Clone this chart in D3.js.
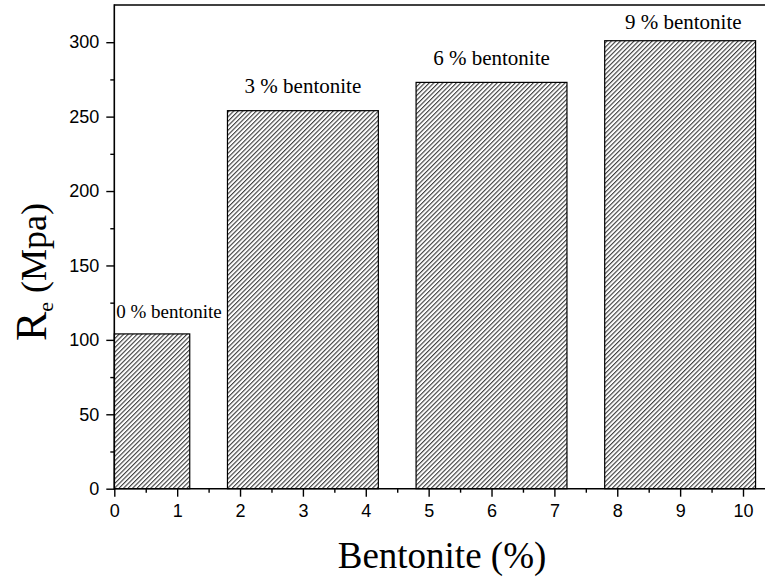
<!DOCTYPE html>
<html><head><meta charset="utf-8">
<script src="https://cdn.jsdelivr.net/npm/d3@7"></script>
<style>
html,body{margin:0;padding:0;background:#fff;}
svg{display:block;}
</style></head>
<body>
<svg id="chart" width="765" height="578"></svg>
<script>
// ---- data ----
const categories = ["0 % bentonite", "3 % bentonite", "6 % bentonite", "9 % bentonite"];
const barStart = [0, 1.8, 4.8, 7.8];
const barEnd = [1.2, 4.2, 7.2, 10.2];
const values = [104, 254, 273, 301];
const labelX = [0.87, 3.0, 6.0, 9.05];
const labelY = [114.5, 266, 285, 309];
const xTicks = [0, 1, 2, 3, 4, 5, 6, 7, 8, 9, 10];
const xMinorTicks = [0.5, 1.5, 2.5, 3.5, 4.5, 5.5, 6.5, 7.5, 8.5, 9.5];
const yTicks = [0, 50, 100, 150, 200, 250, 300];
const yMinorTicks = [25, 75, 125, 175, 225, 275];

// ---- styles ----
const labelFont = [19, 21, 21, 21];

const svg = d3.select("#chart");
const x = d3.scaleLinear().domain([0, 10]).range([114.3, 743]);
const y = d3.scaleLinear().domain([0, 325]).range([488.7, 5]);

// hatch pattern
const defs = svg.append("defs");
const pat = defs.append("pattern")
  .attr("id", "hatch").attr("patternUnits", "userSpaceOnUse")
  .attr("width", 3.2).attr("height", 3.2)
  .attr("patternTransform", "rotate(45)");
pat.append("rect").attr("width", 3.2).attr("height", 3.2).attr("fill", "#fff");
pat.append("line").attr("x1", 0.6).attr("y1", 0).attr("x2", 0.6).attr("y2", 3.2)
  .attr("stroke", "#1a1a1a").attr("stroke-width", 0.95);

// bars
svg.append("g").selectAll("rect").data(values).join("rect")
  .attr("x", (d, i) => x(barStart[i]))
  .attr("y", d => y(d))
  .attr("width", (d, i) => x(barEnd[i]) - x(barStart[i]))
  .attr("height", d => y(0) - y(d))
  .attr("fill", "url(#hatch)")
  .attr("stroke", "#000").attr("stroke-width", 1.2);

// bar labels
svg.append("g").selectAll("text").data(categories).join("text")
  .attr("x", (d, i) => x(labelX[i]))
  .attr("y", (d, i) => y(labelY[i]))
  .attr("text-anchor", "middle")
  .attr("font-family", "'Liberation Serif', 'Times New Roman', serif")
  .attr("font-size", (d, i) => labelFont[i])
  .attr("fill", "#000")
  .text(d => d);

// axes
const tickFont = "'Liberation Sans', Arial, sans-serif";
const gx = svg.append("g").attr("transform", `translate(0,${y(0)})`)
  .call(d3.axisBottom(x).tickValues(xTicks).tickSize(8).tickSizeOuter(0).tickPadding(8).tickFormat(d3.format("d")));
const gxm = svg.append("g").attr("transform", `translate(0,${y(0)})`)
  .call(d3.axisBottom(x).tickValues(xMinorTicks).tickSize(4).tickSizeOuter(0).tickFormat(""));
const gy = svg.append("g").attr("transform", `translate(${x(0)},0)`)
  .call(d3.axisLeft(y).tickValues(yTicks).tickSize(8).tickSizeOuter(0).tickPadding(7).tickFormat(d3.format("d")));
const gym = svg.append("g").attr("transform", `translate(${x(0)},0)`)
  .call(d3.axisLeft(y).tickValues(yMinorTicks).tickSize(4).tickSizeOuter(0).tickFormat(""));
[gx, gxm, gy, gym].forEach(g => {
  g.select(".domain").remove();
  g.selectAll("line").attr("stroke", "#000").attr("stroke-width", 1.4);
  g.selectAll("text").attr("font-family", tickFont).attr("font-size", 18).attr("fill", "#000");
});

// frame lines
svg.append("line").attr("x1", x(0)).attr("x2", 766).attr("y1", y(0)).attr("y2", y(0))
  .attr("stroke", "#000").attr("stroke-width", 1.6);
svg.append("line").attr("x1", x(0)).attr("x2", 766).attr("y1", y(325)).attr("y2", y(325))
  .attr("stroke", "#000").attr("stroke-width", 1.6);
svg.append("line").attr("x1", x(0)).attr("x2", x(0)).attr("y1", y(0) + 0.8).attr("y2", y(325) - 0.8)
  .attr("stroke", "#000").attr("stroke-width", 1.6);

// axis titles
svg.append("text")
  .attr("x", 442).attr("y", 568)
  .attr("text-anchor", "middle")
  .attr("font-family", "'Liberation Serif', 'Times New Roman', serif")
  .attr("font-size", 37).attr("fill", "#000")
  .text("Bentonite (%)");

const yl = svg.append("text")
  .attr("transform", "translate(46,341) rotate(-90)")
  .attr("text-anchor", "start")
  .attr("font-family", "'Liberation Serif', 'Times New Roman', serif")
  .attr("fill", "#000");
yl.append("tspan").attr("font-size", 44).text("R");
yl.append("tspan").attr("font-size", 22).attr("dy", 7).text("e");
yl.append("tspan").attr("font-size", 36).attr("dy", -7).text(" (Mpa)");
</script>
</body></html>
